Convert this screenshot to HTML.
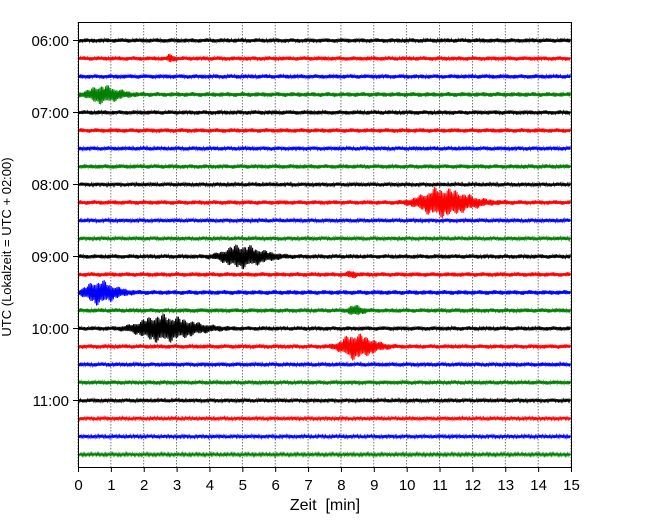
<!DOCTYPE html>
<html><head><meta charset="utf-8"><style>
body{margin:0;background:#fff;}
svg text{font-family:"Liberation Sans",sans-serif;}
</style></head><body>
<svg id="chart" width="650" height="520" xmlns="http://www.w3.org/2000/svg">
<rect x="0" y="0" width="650" height="520" fill="#fff"/>
<g id="grid"></g>
<g id="traces"></g>
<rect x="78.5" y="22.5" width="493" height="445" fill="none" stroke="#000" stroke-width="1"/>
<g id="xticks"></g>
<g id="yticks"></g>
<text x="325" y="510" font-size="16" text-anchor="middle">Zeit&#160; [min]</text>
<text transform="translate(11,247) rotate(-90)" font-size="13" text-anchor="middle">UTC (Lokalzeit = UTC + 02:00)</text>
</svg>
<script>
const traceLabels=["06:00","06:15","06:30","06:45","07:00","07:15","07:30","07:45","08:00","08:15","08:30","08:45","09:00","09:15","09:30","09:45","10:00","10:15","10:30","10:45","11:00","11:15","11:30","11:45"];
const noiseLevel=[2.2,2.2,2.2,2.4,2.2,2.3,2.1,2.2,2,2.3,2,2,2.2,2.3,2.4,2.2,2.2,2.2,2.1,2.1,2,1.8,1.8,1.6];
const eventTrace=[1,3,9,12,13,14,15,16,17];
const eventTime=[2.8,0.7,11,4.9,8.3,0.6,8.4,2.5,8.4];
const eventAmp=[3,8,14,11,2.5,11,4,13,12];
const eventWidth=[0.12,0.55,0.9,0.75,0.15,0.55,0.25,1.0,0.6];
const xTicks=[0,1,2,3,4,5,6,7,8,9,10,11,12,13,14,15];
const yLabels=["06:00","07:00","08:00","09:00","10:00","11:00"];
const colors=["#000","#f00","#00f","#008000"];
const NS="http://www.w3.org/2000/svg";
const x0=78,x1=571,yTop=40,dy=18;
const xs=t=>x0+(t/15)*(x1-x0);
const ys=i=>yTop+i*dy;
const grid=document.getElementById('grid');
xTicks.forEach(t=>{
 const l=document.createElementNS(NS,'line');
 
 
 l.setAttribute('x1',xs(t));l.setAttribute('x2',xs(t));l.setAttribute('y1',22);l.setAttribute('y2',467);
 l.setAttribute('stroke','#555');l.setAttribute('stroke-width','0.8');l.setAttribute('stroke-dasharray','1.5,1.5');
 grid.appendChild(l);
 const tk=document.createElementNS(NS,'line');
 
 
 tk.setAttribute('x1',xs(t)+0.5);tk.setAttribute('x2',xs(t)+0.5);tk.setAttribute('y1',467);tk.setAttribute('y2',472);tk.setAttribute('stroke','#000');
 document.getElementById('xticks').appendChild(tk);
 const tx=document.createElementNS(NS,'text');
 
 
 tx.setAttribute('x',xs(t)+0.5);tx.setAttribute('y',490);tx.setAttribute('font-size','15');tx.setAttribute('text-anchor','middle');
 tx.textContent=t;document.getElementById('xticks').appendChild(tx);
});
yLabels.forEach((lab,k)=>{
 const y=ys(k*4);
 const tk=document.createElementNS(NS,'line');
 
 
 tk.setAttribute('x1',73);tk.setAttribute('x2',78);tk.setAttribute('y1',y+0.5);tk.setAttribute('y2',y+0.5);tk.setAttribute('stroke','#000');
 document.getElementById('yticks').appendChild(tk);
 const tx=document.createElementNS(NS,'text');
 
 
 tx.setAttribute('x',69);tx.setAttribute('y',y+6);tx.setAttribute('font-size','15');tx.setAttribute('text-anchor','end');
 tx.textContent=lab;document.getElementById('yticks').appendChild(tx);
});
const tr=document.getElementById('traces');
traceLabels.forEach((lab,i)=>{
 const yc=ys(i)+0.5;
 let pts=[];
 for(let px=x0+1,k=0;px<=x1;px+=0.7,k++){
  const t=(px-x0)/(x1-x0)*15;
  let a=noiseLevel[i];
  eventTrace.forEach((tri,e)=>{
   if(tri===i){const d=(t-eventTime[e])/eventWidth[e];a+=eventAmp[e]*Math.exp(-d*d*(d<0?2:0.8));}
  });
  const tex=0.55+0.45*Math.abs(Math.sin(k*1.7+i*0.9)*Math.cos(k*0.31+i));
  const s=(k%2?1:-1);
  pts.push(px.toFixed(1)+','+(yc+s*a*tex).toFixed(1));
 }
 const p=document.createElementNS(NS,'polyline');
 
 
 p.setAttribute('points',pts.join(' '));
 p.setAttribute('fill','none');p.setAttribute('stroke',colors[i%4]);p.setAttribute('stroke-width','1');
 tr.appendChild(p);
});
</script>
</body></html>
